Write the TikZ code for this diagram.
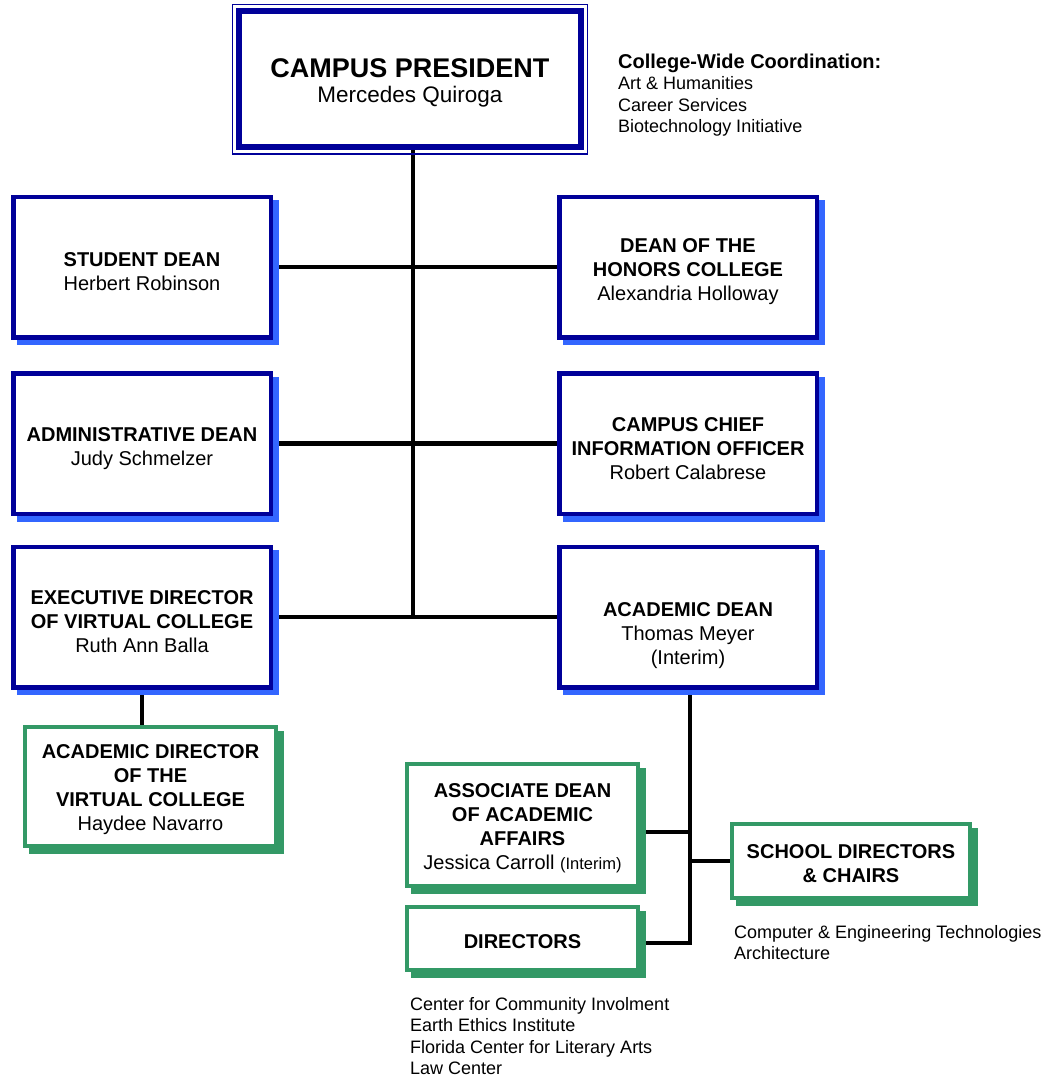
\documentclass[tikz,border=0pt]{standalone}
\usepackage{fontspec}
\setmainfont{Liberation Sans}
\usetikzlibrary{shadows,backgrounds}
\definecolor{navy}{RGB}{0,0,153}
\definecolor{shadowblue}{RGB}{51,102,255}
\definecolor{boxgreen}{RGB}{51,153,102}
\newcommand{\bluestrut}{\rule{0pt}{24pt}}
\newcommand{\greenstrut}{\rule{0pt}{20pt}}

\begin{document}
\begin{tikzpicture}[x=1pt, y=-1pt]
      \tikzset{presbox/.style={draw=navy, line width=6pt, fill=white, minimum width=342pt, minimum height=136.5pt, align=center, font=\fontsize{22.5}{25}\selectfont}}
      \tikzset{bluebox/.style={draw=navy, line width=4.5pt, fill=white, minimum width=257.5pt, minimum height=140.5pt, align=center, font=\fontsize{20}{24}\selectfont,
               general shadow={shadow xshift=5.5pt, shadow yshift=-5.5pt, draw=shadowblue, fill=shadowblue, line width=4.5pt}}}
      \tikzset{greenbox/.style={draw=boxgreen, line width=4pt, fill=white, align=center, font=\fontsize{20}{24}\selectfont,
               general shadow={shadow xshift=5.5pt, shadow yshift=-5.5pt, draw=boxgreen, fill=boxgreen, line width=4pt}}}
      \tikzset{link/.style={line width=4.5pt}}
      \tikzset{notes/.style={align=left, inner sep=0pt, font=\fontsize{18}{21.5}\selectfont}}
      \useasboundingbox (0,0) rectangle (1055,1080);
%% Boxes
      \node[presbox] (pres) at (410,79) {\rule{0pt}{26pt}{\fontsize{27}{25}\selectfont\bfseries CAMPUS PRESIDENT}\\Mercedes Quiroga};
      \draw[navy, line width=1.5pt] ([shift={(-3.5,3.5)}]pres.south west) rectangle ([shift={(3.5,-3.5)}]pres.north east);
      \node[bluebox] (sdean) at (142,267) {\bluestrut\textbf{STUDENT DEAN}\\Herbert Robinson};
      \node[bluebox] (adm) at (142,443.5) {\bluestrut\textbf{ADMINISTRATIVE DEAN}\\Judy Schmelzer};
      \node[bluebox] (exec) at (142,617) {\bluestrut\textbf{EXECUTIVE DIRECTOR}\\\textbf{OF VIRTUAL COLLEGE}\\Ruth Ann Balla};
      \node[bluebox] (honors) at (688,267) {\bluestrut\textbf{DEAN OF THE}\\\textbf{HONORS COLLEGE}\\Alexandria Holloway};
      \node[bluebox] (cio) at (688,443.5) {\bluestrut\textbf{CAMPUS CHIEF}\\\textbf{INFORMATION OFFICER}\\Robert Calabrese};
      \node[bluebox] (adean) at (688,617) {\rule{0pt}{52pt}\textbf{ACADEMIC DEAN}\\Thomas Meyer\\(Interim)};
      \node[greenbox, minimum width=251pt, minimum height=119pt] (acdir) at (150.5,786.5) {\greenstrut\textbf{ACADEMIC DIRECTOR}\\\textbf{OF THE}\\\textbf{VIRTUAL COLLEGE}\\Haydee Navarro};
      \node[greenbox, minimum width=231pt, minimum height=122pt] (assoc) at (522.5,825) {\greenstrut\textbf{ASSOCIATE DEAN}\\\textbf{OF ACADEMIC}\\\textbf{AFFAIRS}\\Jessica Carroll {\fontsize{16.5}{24}\selectfont(Interim)}};
      \node[greenbox, minimum width=231pt, minimum height=63pt] (dirs) at (522.5,938.5) {\greenstrut\textbf{DIRECTORS}};
      \node[greenbox, minimum width=238pt, minimum height=74pt] (school) at (851,861) {\greenstrut\textbf{SCHOOL DIRECTORS}\\\textbf{\& CHAIRS}};
%% Notes
      \node[notes, anchor=north west] (cwide) at (618,53.5) {{\fontsize{20}{21.5}\selectfont\bfseries College-Wide Coordination:}\\Art \& Humanities\\Career Services\\Biotechnology Initiative};
      \node[notes, anchor=north west] (schlist) at (734,925) {Computer \& Engineering Technologies\\Architecture};
      \node[notes, anchor=north west] (dirlist) at (410,997) {Center for Community Involment\\Earth Ethics Institute\\Florida Center for Literary Arts\\Law Center};
%Lines
      \coordinate (trunk) at (413,617);
      \coordinate (acbus) at (690,943);
      \begin{scope}[on background layer]
        \fill[white] (0,0) rectangle (1055,1080);
        \draw[link] (pres.south -| trunk) -- (trunk);
        \draw[link] (sdean) -- (honors);
        \draw[link] (adm) -- (cio);
        \draw[link] (exec) -- (adean);
        \draw[link] (exec.south) -- (exec.south |- acdir.north);
        \draw[link] (adean.south -| acbus) -- (acbus) -- (acbus -| dirs.east);
        \draw[link] ([yshift=-7pt]assoc.east) -- ([yshift=-7pt]assoc.east -| acbus);
        \draw[link] (acbus |- school.west) -- (school.west);
      \end{scope}
\end{tikzpicture}
\end{document}
